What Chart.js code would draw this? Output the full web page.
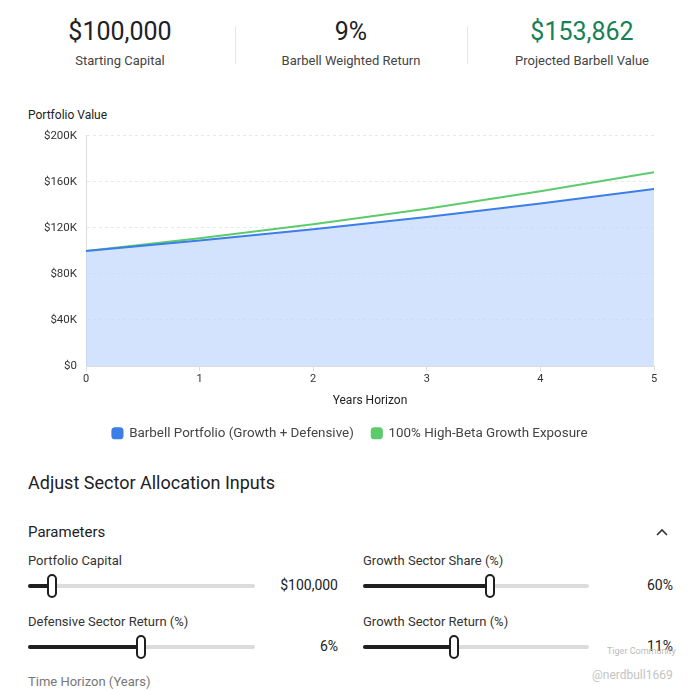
<!DOCTYPE html>
<html>
<head>
<meta charset="utf-8">
<script src="https://cdn.jsdelivr.net/npm/chart.js@4.4.0/dist/chart.umd.min.js"></script>
<style>
  html,body{margin:0;padding:0;background:#fff;}
  body{width:689px;height:691px;position:relative;overflow:hidden;font-family:Roboto,"Noto Sans",sans-serif;color:#202124;}
  .kpi{position:absolute;top:16px;width:200px;text-align:center;}
  .kpi .v{font-size:25px;line-height:31px;color:#202124;}
  .kpi .l{font-size:13px;line-height:18px;color:#444;margin-top:5px;}
  .div{position:absolute;top:26px;width:1px;height:38px;background:#e6e6e6;}
  .t{position:absolute;white-space:nowrap;}
  .track{position:absolute;height:4px;background:#dcdcdc;border-radius:2px;}
  .fill{position:absolute;left:0;top:0;height:4px;background:#1f1f1f;border-radius:2px;}
  .thumb{position:absolute;width:6px;height:20px;border:2px solid #1f1f1f;border-radius:5px;background:#fff;top:-10px;}
  .val{position:absolute;font-size:14px;color:#202124;text-align:right;width:100px;}
</style>
</head>
<body>
<div class="kpi" style="left:20px"><div class="v">$100,000</div><div class="l">Starting Capital</div></div>
<div class="div" style="left:235px"></div>
<div class="kpi" style="left:251px"><div class="v">9%</div><div class="l">Barbell Weighted Return</div></div>
<div class="div" style="left:467px"></div>
<div class="kpi" style="left:482px"><div class="v" style="color:#188055">$153,862</div><div class="l">Projected Barbell Value</div></div>

<div class="t" style="left:28px;top:108px;font-size:12px;color:#202124;">Portfolio Value</div>
<div style="position:absolute;left:20px;top:120px;width:646px;height:330px;"><canvas id="c"></canvas></div>

<div class="t" style="left:28px;top:472px;font-size:18px;color:#202124;">Adjust Sector Allocation Inputs</div>
<div class="t" style="left:28px;top:523px;font-size:15px;color:#202124;">Parameters</div>
<svg style="position:absolute;left:656px;top:528px;" width="12" height="8" viewBox="0 0 12 8"><polyline points="1,7 6,2 11,7" fill="none" stroke="#333" stroke-width="1.6"/></svg>

<div class="t" style="left:28px;top:553px;font-size:13px;color:#333;">Portfolio Capital</div>
<div class="track" style="left:28px;top:584px;width:227px;"><div class="fill" style="width:24px"></div><div class="thumb" style="left:19px"></div></div>
<div class="val" style="left:238px;top:577px;">$100,000</div>

<div class="t" style="left:363px;top:553px;font-size:13px;color:#333;">Growth Sector Share (%)</div>
<div class="track" style="left:363px;top:584px;width:226px;"><div class="fill" style="width:127px"></div><div class="thumb" style="left:122px"></div></div>
<div class="val" style="left:573px;top:577px;">60%</div>

<div class="t" style="left:28px;top:614px;font-size:13px;color:#333;">Defensive Sector Return (%)</div>
<div class="track" style="left:28px;top:645px;width:227px;"><div class="fill" style="width:113px"></div><div class="thumb" style="left:108px"></div></div>
<div class="val" style="left:238px;top:638px;">6%</div>

<div class="t" style="left:363px;top:614px;font-size:13px;color:#333;">Growth Sector Return (%)</div>
<div class="track" style="left:363px;top:645px;width:226px;"><div class="fill" style="width:91px"></div><div class="thumb" style="left:86px"></div></div>
<div class="val" style="left:573px;top:638px;">11%</div>

<div class="t" style="left:28px;top:674px;font-size:13px;color:#777;">Time Horizon (Years)</div>

<div class="t" style="left:607px;top:646px;font-size:9px;color:#bbb;">Tiger Community</div>
<div class="t" style="left:592px;top:668px;font-size:12px;color:#c4c4c4;">@nerdbull1669</div>

<script>
const years = [0, 1, 2, 3, 4, 5];
const barbellValues = [100000, 109000, 118810, 129503, 141158, 153862];
const growthValues = [100000, 111000, 123210, 136763, 151807, 168506];
const seriesNames = ["Barbell Portfolio (Growth + Defensive)", "100% High-Beta Growth Exposure"];
const yTicks = [0, 40000, 80000, 120000, 160000, 200000];

Chart.defaults.font.family = "Roboto, 'Noto Sans', sans-serif";
const legendShift = {
  id: 'legendShift',
  afterLayout(chart) {
    if (chart.legend) { chart.legend.left += 13; chart.legend.right += 13; }
  }
};
new Chart(document.getElementById('c'), {
  type: 'line',
  plugins: [legendShift],
  data: {
    datasets: [
      {
        label: seriesNames[0],
        data: years.map((x, i) => ({x: x, y: barbellValues[i]})),
        borderColor: '#3b7ee8',
        backgroundColor: 'rgba(198,218,252,0.75)',
        fill: 'origin',
        borderWidth: 2,
        pointRadius: 0,
        tension: 0
      },
      {
        label: seriesNames[1],
        data: years.map((x, i) => ({x: x, y: growthValues[i]})),
        borderColor: '#5ccb6c',
        backgroundColor: '#5ccb6c',
        fill: false,
        borderWidth: 2,
        pointRadius: 0,
        tension: 0
      }
    ]
  },
  options: {
    responsive: true,
    maintainAspectRatio: false,
    animation: false,
    layout: {padding: {left: 0, right: 12, top: 4, bottom: 0}},
    plugins: {
      legend: {
        position: 'bottom',
        labels: {
          usePointStyle: true,
          pointStyle: 'rectRounded',
          boxWidth: 10, boxHeight: 10,
          padding: 18,
          color: '#444',
          font: {size: 13.4},
          generateLabels: (chart) => chart.data.datasets.map((d, i) => ({
            text: d.label, fillStyle: d.borderColor, strokeStyle: d.borderColor,
            lineWidth: 0, pointStyle: 'rectRounded', datasetIndex: i, fontColor: '#444'
          }))
        }
      },
      tooltip: {enabled: false}
    },
    scales: {
      x: {
        type: 'linear',
        min: 0, max: 5,
        ticks: {stepSize: 1, color: '#333', font: {size: 11}, padding: 2},
        grid: {display: true, drawOnChartArea: false, drawTicks: true, tickLength: 5, color: '#ddd'},
        border: {color: '#ddd'},
        title: {display: true, text: 'Years Horizon', color: '#222', font: {size: 12}, padding: {top: 6, bottom: 0}}
      },
      y: {
        min: 0, max: 200000,
        afterBuildTicks: (axis) => { axis.ticks = yTicks.map(v => ({value: v})); },
        afterFit: (axis) => { axis.width = 66; },
        ticks: {
          color: '#333', font: {size: 11.5}, padding: 9,
          callback: (v) => v === 0 ? '$0' : '$' + (v / 1000) + 'K'
        },
        grid: {color: '#e8e8e8', drawTicks: false},
        border: {color: '#ddd', dash: [3, 3]}
      }
    }
  }
});
</script>
</body>
</html>
